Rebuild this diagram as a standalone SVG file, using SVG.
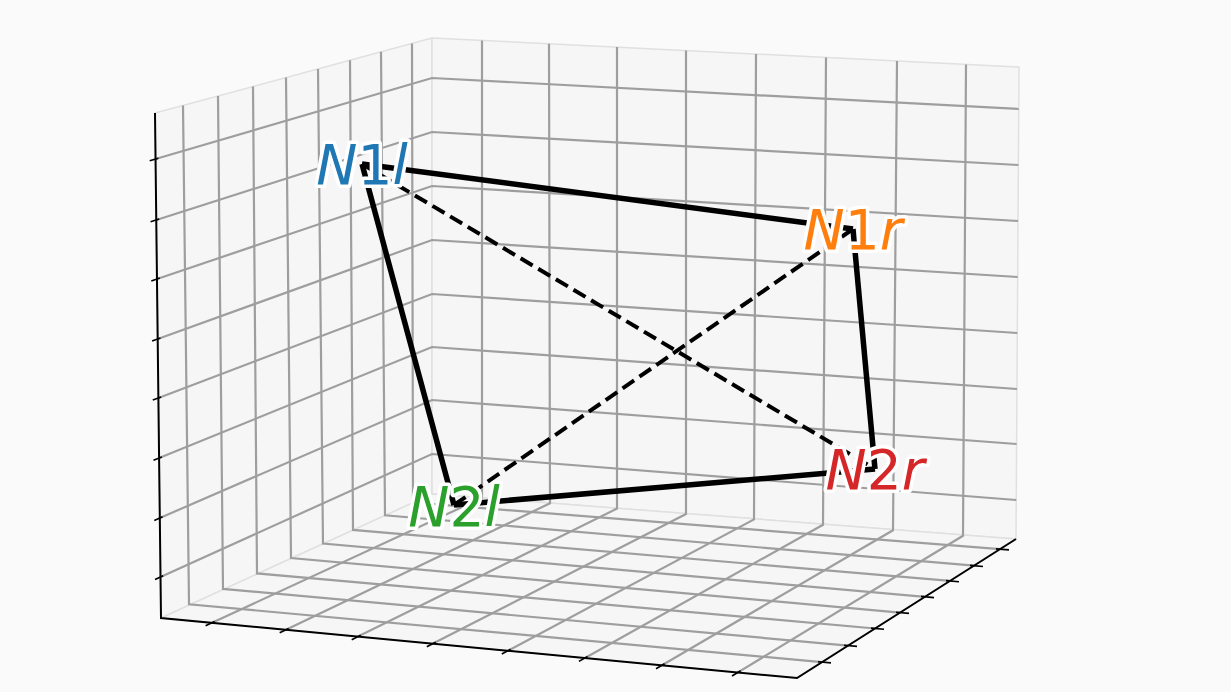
<svg xmlns="http://www.w3.org/2000/svg" width="1231" height="692" viewBox="0 0 1231 692">
<defs>
<style>
.pane{fill:#f6f6f6;stroke:#e0e0e0;stroke-width:1.5;stroke-linejoin:round}
.grid{fill:none;stroke:#9e9e9e;stroke-width:2.2}
.axis{fill:none;stroke:#000;stroke-width:2}
.tick{fill:none;stroke:#000;stroke-width:1.6}
.edge{fill:none;stroke:#000;stroke-width:5.5;stroke-linecap:butt}
.dash{fill:none;stroke:#000;stroke-width:4;stroke-dasharray:14 6.5}
.lbl{font-family:"DejaVu Sans","Liberation Sans",sans-serif;font-size:55px;text-anchor:middle;stroke:#fff;stroke-width:7;stroke-linejoin:round;paint-order:stroke}
.it{font-style:italic}
</style>
</defs>
<rect width="1231" height="692" fill="#fafafa"/>
<g id="panes">
<polygon class="pane" points="155,113 432,38 432,494 161,618"/>
<polygon class="pane" points="432,38 1019,67 1016,539 432,494"/>
<polygon class="pane" points="161,618 432,494 1016,539 797,678"/>
</g>
<g id="grid">
<polyline class="grid" points="155.5,159 432,78 1018.7,109"/>
<polyline class="grid" points="156.3,220 432,132 1018.4,165"/>
<polyline class="grid" points="157,279 432,186 1018,221"/>
<polyline class="grid" points="157.7,339 432,240 1017.7,277"/>
<polyline class="grid" points="158.4,398 432,294 1017.3,333"/>
<polyline class="grid" points="159.1,458 432,347 1017,389"/>
<polyline class="grid" points="159.8,518 432,400 1016.6,444"/>
<polyline class="grid" points="160.5,577 432,454 1016.2,500"/>
<polyline class="grid" points="183,105.4 189,604.3 822,662.1"/>
<polyline class="grid" points="218,95.9 223,588.9 848,645.6"/>
<polyline class="grid" points="253,86.5 257,573.4 875,628.5"/>
<polyline class="grid" points="286,77.5 291,558 900,612.6"/>
<polyline class="grid" points="318,68.9 323,543.5 925,596.8"/>
<polyline class="grid" points="350,60.2 353,529.9 950,580.9"/>
<polyline class="grid" points="381,51.8 385,515.3 974,565.7"/>
<polyline class="grid" points="412,43.4 413,502.6 1000,549.2"/>
<polyline class="grid" points="482,40.5 482,497.9 212,622.8"/>
<polyline class="grid" points="549,43.8 550,503.3 286,629.8"/>
<polyline class="grid" points="617,47.1 617,508.6 358,636.6"/>
<polyline class="grid" points="686,50.5 686,514 433,643.6"/>
<polyline class="grid" points="756,54 754,519.4 508,650.7"/>
<polyline class="grid" points="826,57.5 823,524.8 585,658"/>
<polyline class="grid" points="897,61 893,530.3 662,665.2"/>
<polyline class="grid" points="966,64.4 963,535.8 738,672.4"/>
</g>
<g id="axes">
<polyline class="axis" points="155,113 161,618 797,678 1016,539"/>
<path class="tick" d="M149.7,160.7L158.4,158.2M150.6,221.8L159.2,219.1M151.3,280.9L159.8,278M152.1,341L160.5,338M152.8,400.1L161.2,396.9M153.5,460.3L161.9,456.9M154.3,520.4L162.6,516.8M155,579.5L163.2,575.8"/>
<path class="tick" d="M205.6,625.7L214.7,621.5M279.7,632.8L288.7,628.5M351.7,639.7L360.7,635.3M426.8,646.8L435.7,642.2M501.8,654L510.6,649.3M578.9,661.4L587.6,656.5M656,668.7L664.6,663.7M732,676L740.6,670.8"/>
<path class="tick" d="M818,661.7L831,662.9M844,645.2L857,646.4M871,628.1L884,629.3M896,612.2L909,613.4M921,596.4L934,597.6M946,580.6L959,581.7M970,565.4L983,566.5M996,548.9L1009,549.9"/>
</g>
<g id="connectors">
<line class="edge" x1="362" y1="164" x2="853" y2="229"/>
<line class="edge" x1="362" y1="164" x2="454" y2="505"/>
<line class="edge" x1="853" y1="229" x2="875" y2="469"/>
<line class="edge" x1="454" y1="505" x2="875" y2="469"/>
<line class="dash" x1="362" y1="164" x2="875" y2="469"/>
<line class="dash" x1="454" y1="505" x2="853" y2="229"/>
</g>
<g id="node-N1l"><text class="lbl" x="362" y="184" fill="#1f77b4"><tspan class="it">N</tspan>1<tspan class="it">l</tspan></text></g>
<g id="node-N1r"><text class="lbl" x="853" y="249" fill="#ff7f0e"><tspan class="it">N</tspan>1<tspan class="it">r</tspan></text></g>
<g id="node-N2l"><text class="lbl" x="454" y="526" fill="#2ca02c"><tspan class="it">N</tspan>2<tspan class="it">l</tspan></text></g>
<g id="node-N2r"><text class="lbl" x="875" y="489" fill="#d62728"><tspan class="it">N</tspan>2<tspan class="it">r</tspan></text></g>
</svg>
